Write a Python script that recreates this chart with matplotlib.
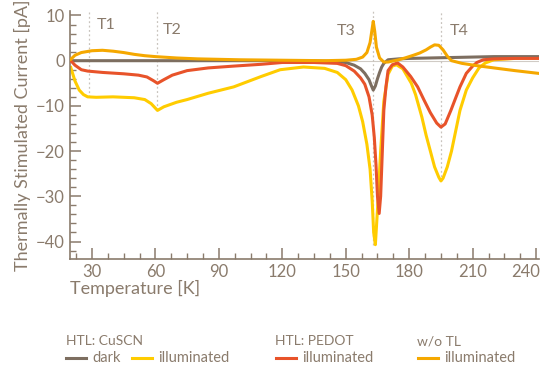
import matplotlib.pyplot as plt
from matplotlib.lines import Line2D
from matplotlib.ticker import MultipleLocator
from matplotlib.transforms import ScaledTranslation

plt.rcParams['font.family'] = ['Lato', 'DejaVu Sans']

# --- data (temperature in K, current in pA) ---
dark_T = [20, 40, 60, 80, 100, 120, 140, 150, 154, 157, 159, 161, 162, 163, 164, 165, 166, 167, 168, 170, 175, 180, 190, 200, 210, 220, 230, 241]
dark_I = [0, 0, 0, 0, 0, 0, -0.1, -0.4, -1.0, -1.8, -2.8, -4.2, -5.4, -6.5, -5.6, -4.0, -2.6, -1.4, -0.6, 0.2, 0.4, 0.5, 0.6, 0.7, 0.8, 0.9, 0.9, 0.9]

cuscn_T = [20, 22, 24, 26, 28, 32, 40, 50, 55, 58, 61, 64, 70, 75, 85, 97, 110, 119, 130, 140, 146, 150, 153, 156, 158, 160, 161.5, 162.5, 163.2, 164, 165, 166.5, 168, 170, 172, 174, 177, 181, 183, 186, 188, 190, 192, 194, 195, 196, 198, 200, 202, 204, 207, 210, 213, 216, 220, 230, 241]
cuscn_I = [-1.5, -4.5, -6.5, -7.5, -8.0, -8.1, -8.0, -8.2, -8.6, -9.5, -11.0, -10.2, -9.2, -8.6, -7.2, -5.8, -3.5, -2.0, -1.4, -1.7, -2.6, -4.2, -6.5, -10.0, -13.5, -18.5, -24.0, -31.0, -38.0, -40.7, -33.0, -20.0, -9.0, -3.0, -1.2, -0.9, -1.8, -5.0, -7.5, -12.5, -16.5, -20.0, -23.5, -25.8, -26.6, -26.0, -23.5, -20.0, -15.5, -11.0, -6.5, -3.8, -1.6, -0.5, 0.2, 0.5, 0.6]

pedot_T = [20, 22, 25, 28, 35, 45, 52, 56, 59, 61, 64, 68, 75, 85, 97, 110, 120, 135, 146, 150, 154, 157, 159, 161, 162.5, 163.5, 164.3, 165, 165.8, 166.5, 167.3, 168, 169, 170, 172, 174.5, 177, 180.7, 184, 187, 190, 193, 195, 197, 199.7, 202, 204, 207, 210, 212, 215, 220, 230, 241]
pedot_I = [0, -1.0, -2.0, -2.3, -2.6, -2.9, -3.2, -3.6, -4.4, -5.0, -4.2, -3.2, -2.2, -1.6, -1.2, -0.8, -0.4, -0.4, -0.6, -1.1, -2.3, -3.8, -5.2, -8.0, -12.0, -17.0, -23.0, -30.0, -33.8, -30.0, -20.0, -11.0, -5.8, -2.2, -0.9, -0.5, -1.4, -3.5, -5.8, -8.7, -11.5, -13.8, -14.7, -14.0, -11.0, -8.2, -5.8, -2.8, -1.2, -0.4, 0.2, 0.4, 0.5, 0.5]

wotl_T = [20, 22, 25, 30, 35, 40, 45, 50, 55, 60, 70, 80, 100, 120, 140, 150, 155, 158, 160, 161.5, 162.3, 163, 163.7, 164.5, 166, 168, 170, 175, 178, 182, 185, 188, 190, 192, 194, 196, 198, 200, 205, 212, 220, 230, 241]
wotl_I = [0.3, 1.2, 1.8, 2.2, 2.3, 2.1, 1.8, 1.4, 1.1, 0.9, 0.6, 0.4, 0.2, 0.1, 0.0, 0.1, 0.3, 0.8, 1.8, 4.0, 6.5, 8.7, 6.5, 3.0, 0.6, -0.3, -0.3, 0.2, 0.6, 1.2, 1.7, 2.4, 3.0, 3.5, 3.4, 2.4, 1.0, 0.0, -0.6, -1.1, -1.6, -2.2, -2.8]

t_names = ['T1', 'T2', 'T3', 'T4']
t_pos = [28.6, 61, 163, 195]
t_depth = [-8, -11, -40.7, -26.6]

axis_col = '#8a7b6c'
c_dark = '#7d6e60'
c_cuscn = '#ffcc00'
c_pedot = '#e8532a'
c_wotl = '#f5a800'

fig = plt.figure(figsize=(5.42, 3.65), dpi=100)
ax = fig.add_axes([0.129, 0.29, 0.866, 0.68])

ax.axhline(0, color='#d0cbc5', lw=0.8, zorder=1)
for t, d in zip(t_pos, t_depth):
    ax.vlines(t, d, 11, colors='#c8c3bd', linestyles=(0, (1.5, 2)), lw=0.9, zorder=1)

ax.plot(dark_T, dark_I, color=c_dark, lw=2.2, zorder=3)
ax.plot(cuscn_T, cuscn_I, color=c_cuscn, lw=2.2, zorder=2)
ax.plot(pedot_T, pedot_I, color=c_pedot, lw=2.2, zorder=3)
ax.plot(wotl_T, wotl_I, color=c_wotl, lw=2.2, zorder=4)

# T labels: (offset in K, y, alignment)
t_lab = [(3.5, 7.8, 'left'), (2.5, 6.8, 'left'), (-8.5, 6.5, 'right'), (4.0, 6.6, 'left')]
for name, t, (off, y, ha) in zip(t_names, t_pos, t_lab):
    ax.text(t + off, y, name, color=axis_col, fontsize=11.5, va='center', ha=ha)

ax.set_xlim(19.6, 241.5)
ax.set_ylim(-43.9, 11)
ax.xaxis.set_minor_locator(MultipleLocator(7.5))
ax.yaxis.set_minor_locator(MultipleLocator(2))
ax.set_xticks([30, 60, 90, 120, 150, 180, 210, 240])
ax.set_yticks([-40, -30, -20, -10, 0, 10])

for s in ['top', 'right']:
    ax.spines[s].set_visible(False)
for s in ['left', 'bottom']:
    ax.spines[s].set_color(axis_col)
    ax.spines[s].set_linewidth(1.2)
ax.tick_params(which='both', direction='in', colors=axis_col, labelcolor=axis_col, labelsize=12)
ax.tick_params(which='major', length=8, width=1.1)
ax.tick_params(which='minor', length=4, width=1.0)

# keep the last x label inside the figure
last = ax.get_xticklabels()[-1]
last.set_horizontalalignment('right')
last.set_transform(last.get_transform() + ScaledTranslation(4 / 100, 0, fig.dpi_scale_trans))

ax.set_xlabel('Temperature [K]', color=axis_col, fontsize=13, loc='left', labelpad=0)
ax.set_ylabel('Thermally Stimulated Current [pA]', color=axis_col, fontsize=13, labelpad=4)

# legend drawn as figure text
def lx(px):
    return px / 542

def ly(py):
    return 1 - py / 365

groups = [('HTL: CuSCN', 66), ('HTL: PEDOT', 275), ('w/o TL', 417)]
for title, x in groups:
    fig.text(lx(x), ly(341), title, color=axis_col, fontsize=10, va='center', ha='left')

entries = [(66, c_dark, 'dark'), (132, c_cuscn, 'illuminated'), (276, c_pedot, 'illuminated'), (418, c_wotl, 'illuminated')]
for x, col, lab in entries:
    fig.add_artist(Line2D([lx(x), lx(x + 20)], [ly(358), ly(358)], color=col, lw=2.2))
    fig.text(lx(x + 26), ly(358), lab, color=axis_col, fontsize=10.5, va='center', ha='left')

fig.savefig('out.png', dpi=100)
